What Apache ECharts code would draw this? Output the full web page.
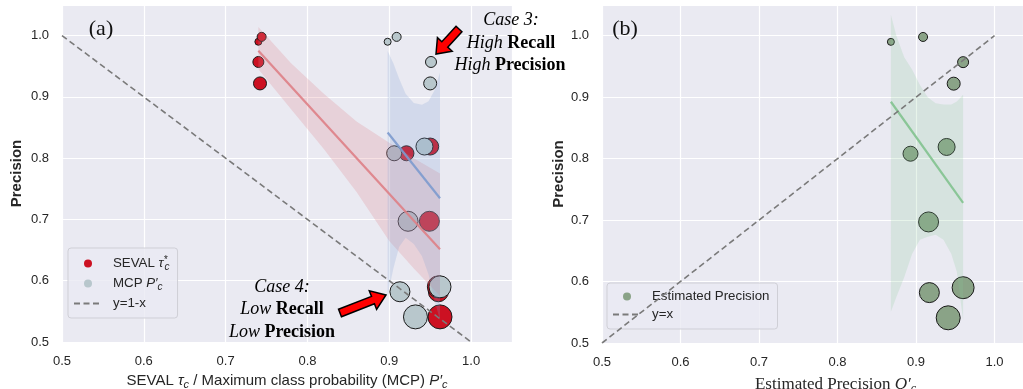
<!DOCTYPE html>
<html>
<head>
<meta charset="utf-8">
<script src="https://cdn.jsdelivr.net/npm/echarts@6/dist/echarts.min.js"></script>
<style>
  html, body { margin: 0; padding: 0; background: #fff; }
  #chart { width: 1023px; height: 389px; }
</style>
</head>
<body>
<div id="chart"></div>
<script>
// precision of each class (y of every point) and the three x-measures
const precision = [0.990, 0.998, 0.957, 0.922, 0.808, 0.819, 0.697, 0.582, 0.590, 0.541];
const sevalTau = [0.740, 0.744, 0.740, 0.742, 0.921, 0.950, 0.949, 0.960, 0.960, 0.962];
const mcpProb = [0.898, 0.909, 0.951, 0.950, 0.906, 0.943, 0.923, 0.913, 0.962, 0.932];
const estPrecision = [0.868, 0.909, 0.960, 0.948, 0.893, 0.939, 0.916, 0.917, 0.960, 0.941];
const classSize = [7, 9, 11, 13, 15, 17, 20, 20, 22, 24];

// confidence bands
const sevalBandX = [0.740, 0.780, 0.820, 0.860, 0.900, 0.930, 0.962];
const sevalBandHi = [1.014, 0.955, 0.905, 0.860, 0.825, 0.800, 0.775];
const sevalBandLo = [0.945, 0.880, 0.815, 0.745, 0.665, 0.620, 0.575];

const mcpBandX = [0.898, 0.905, 0.912, 0.920, 0.930, 0.940, 0.948, 0.955, 0.962];
const mcpBandHi = [0.975, 0.955, 0.930, 0.905, 0.890, 0.887, 0.893, 0.910, 0.940];
const mcpBandLo = [0.575, 0.620, 0.655, 0.670, 0.660, 0.640, 0.610, 0.570, 0.535];

const estBandX = [0.868, 0.875, 0.885, 0.895, 0.905, 0.915, 0.925, 0.935, 0.945, 0.952, 0.960];
const estBandHi = [1.034, 1.000, 0.965, 0.945, 0.920, 0.900, 0.890, 0.888, 0.888, 0.893, 0.904];
const estBandLo = [0.551, 0.575, 0.607, 0.645, 0.668, 0.673, 0.676, 0.668, 0.645, 0.616, 0.537];

// reference diagonals
const diagX = [0.5, 1.0];
const diagDown = [1.0, 0.5];
const diagUp = [0.5, 1.0];

const SANS = "'Liberation Sans', Arial, sans-serif";
const SERIF = "'Liberation Serif', 'Times New Roman', serif";
const TXT = '#262626';

function fitLine(xs, ys) {
  const n = xs.length;
  const mx = xs.reduce((a, b) => a + b, 0) / n;
  const my = ys.reduce((a, b) => a + b, 0) / n;
  let sxy = 0, sxx = 0;
  for (let i = 0; i < n; i++) {
    sxy += (xs[i] - mx) * (ys[i] - my);
    sxx += (xs[i] - mx) * (xs[i] - mx);
  }
  const b = sxy / sxx, a = my - b * mx;
  const x0 = Math.min(...xs), x1 = Math.max(...xs);
  return [[x0, a + b * x0], [x1, a + b * x1]];
}

function points(xs, ys) {
  return xs.map((x, i) => [x, ys[i], classSize[i]]);
}

function scatter(name, idx, xs, color) {
  return {
    name: name, type: 'scatter', xAxisIndex: idx, yAxisIndex: idx, z: 2,
    data: points(xs, precision),
    symbolSize: d => d[2],
    itemStyle: { color: color, borderColor: '#1a1a1a', borderWidth: 1, opacity: 1 }
  };
}

function band(idx, xs, hi, lo, fill) {
  return {
    type: 'custom', xAxisIndex: idx, yAxisIndex: idx, z: 3, silent: true,
    data: [[xs[0], hi[0]]],
    renderItem: function (params, api) {
      const top = xs.map((x, i) => api.coord([x, hi[i]]));
      const bottom = xs.map((x, i) => api.coord([x, lo[i]])).reverse();
      return { type: 'polygon', shape: { points: top.concat(bottom) }, style: { fill: fill } };
    }
  };
}

function regLine(idx, xs, color) {
  return {
    type: 'line', xAxisIndex: idx, yAxisIndex: idx, z: 4, silent: true,
    data: fitLine(xs, precision), symbol: 'none',
    lineStyle: { color: color, width: 2.2 }
  };
}

function diag(name, idx, ys) {
  return {
    name: name, type: 'line', xAxisIndex: idx, yAxisIndex: idx, z: 5, silent: true,
    data: diagX.map((x, i) => [x, ys[i]]), symbol: 'none',
    lineStyle: { color: '#7a7a7a', width: 1.6, type: [6, 3.5] }
  };
}

function arrowPoints(x1, y1, x2, y2, sw, hw, hl) {
  const dx = x2 - x1, dy = y2 - y1, L = Math.hypot(dx, dy);
  const ux = dx / L, uy = dy / L, nx = -uy, ny = ux;
  const bx = x2 - ux * hl, by = y2 - uy * hl;
  return [
    [x1 + nx * sw, y1 + ny * sw], [bx + nx * sw, by + ny * sw], [bx + nx * hw, by + ny * hw],
    [x2, y2],
    [bx - nx * hw, by - ny * hw], [bx - nx * sw, by - ny * sw], [x1 - nx * sw, y1 - ny * sw]
  ];
}

const legendRich = {
  n: { fontFamily: SANS, fontSize: 13.3, color: TXT, lineHeight: 17 },
  it: { fontFamily: SANS, fontSize: 13.3, color: TXT, fontStyle: 'italic', lineHeight: 17 },
  sup: { fontFamily: SANS, fontSize: 10, color: TXT, fontStyle: 'italic', lineHeight: 9, verticalAlign: 'top', width: 1 },
  sub: { fontFamily: SANS, fontSize: 10, color: TXT, fontStyle: 'italic', lineHeight: 9, verticalAlign: 'bottom' }
};
const legendNames = {
  seval: '{n|SEVAL }{it|τ}{sup|*}{sub|c}',
  mcp: '{n|MCP }{it|P′}{sub|c}',
  diag1: '{n|y=1-x}',
  est: '{n|Estimated Precision}',
  diag2: '{n|y=x}'
};
const legendBase = {
  orient: 'vertical', itemWidth: 28, itemHeight: 8, itemGap: 5,
  padding: [7, 8, 8, 5], backgroundColor: 'rgba(234,234,242,0.8)',
  borderColor: '#cfcfd6', borderWidth: 1, borderRadius: 3, selectedMode: false,
  textStyle: { rich: legendRich, padding: [0, 0, 0, 6] },
  formatter: name => legendNames[name]
};

function valueAxis(idx, max, extra) {
  return Object.assign({
    type: 'value', gridIndex: idx, min: 0.5, max: max, interval: 0.1,
    axisLine: { show: false }, axisTick: { show: false },
    splitLine: { lineStyle: { color: '#ffffff', width: 1.2 } },
    axisLabel: { color: TXT, fontFamily: SANS, fontSize: 13, margin: 13, showMaxLabel: false, formatter: v => v.toFixed(1) }
  }, extra);
}

const xLabel = { color: TXT, fontFamily: SANS, fontSize: 13, margin: 13, showMaxLabel: false, formatter: v => v.toFixed(1) };

const axNameRich = {
  n: { fontFamily: SANS, fontSize: 15, color: TXT, lineHeight: 20 },
  it: { fontFamily: SANS, fontSize: 15, color: TXT, fontStyle: 'italic', lineHeight: 20 },
  sub: { fontFamily: SANS, fontSize: 11, color: TXT, fontStyle: 'italic', lineHeight: 10, verticalAlign: 'bottom' },
  sn: { fontFamily: SERIF, fontSize: 17, color: TXT, lineHeight: 20 },
  sit: { fontFamily: SERIF, fontSize: 17, color: TXT, fontStyle: 'italic', lineHeight: 20 },
  ssub: { fontFamily: SERIF, fontSize: 12, color: TXT, fontStyle: 'italic', lineHeight: 11, verticalAlign: 'bottom' }
};

const caseRich = {
  i: { fontFamily: SERIF, fontSize: 18, fontStyle: 'italic', color: '#111' },
  b: { fontFamily: SERIF, fontSize: 18, fontWeight: 'bold', color: '#111' }
};
function caseText(text, x, y) {
  return { type: 'text', z: 100, style: { text: text, x: x, y: y, rich: caseRich, align: 'center', verticalAlign: 'middle' } };
}

const chart = echarts.init(document.getElementById('chart'));
chart.setOption({
  animation: false,
  backgroundColor: '#ffffff',
  grid: [
    { left: 62, top: 5, width: 450, height: 337, outerBoundsMode: 'none', show: true, backgroundColor: '#eaeaf2', borderWidth: 0 },
    { left: 602, top: 5, width: 421, height: 338, outerBoundsMode: 'none', show: true, backgroundColor: '#eaeaf2', borderWidth: 0 }
  ],
  xAxis: [
    valueAxis(0, 1.05, {
      axisLabel: xLabel,
      name: '{n|SEVAL }{it|τ}{sub|c}{n| / Maximum class probability (MCP) }{it|P′}{sub|c}',
      nameLocation: 'middle', nameGap: 28, nameTextStyle: { rich: axNameRich }
    }),
    valueAxis(1, 1.0363, {
      axisLabel: xLabel,
      name: '{sn|Estimated Precision }{sit|Q′}{ssub|c}',
      nameLocation: 'middle', nameGap: 32, nameTextStyle: { rich: axNameRich, padding: [0, 0, 0, 46] }
    })
  ],
  yAxis: [
    valueAxis(0, 1.05, {
      name: 'Precision', nameLocation: 'middle', nameGap: 38,
      nameTextStyle: { fontFamily: SANS, fontSize: 15, fontWeight: 'bold', color: TXT }
    }),
    valueAxis(1, 1.05, {
      name: 'Precision', nameLocation: 'middle', nameGap: 36,
      nameTextStyle: { fontFamily: SANS, fontSize: 15, fontWeight: 'bold', color: TXT }
    })
  ],
  legend: [
    Object.assign({}, legendBase, {
      left: 68, top: 248,
      data: [
        { name: 'seval', itemStyle: { borderWidth: 0 } },
        { name: 'mcp', itemStyle: { borderWidth: 0 } },
        { name: 'diag1', itemStyle: { opacity: 0 } }
      ]
    }),
    Object.assign({}, legendBase, {
      left: 607, top: 283,
      data: [
        { name: 'est', itemStyle: { borderWidth: 0 } },
        { name: 'diag2', itemStyle: { opacity: 0 } }
      ]
    })
  ],
  graphic: [
    { type: 'text', z: 100, style: { text: '(a)', x: 101, y: 29, font: '22px ' + SERIF, fill: '#111', align: 'center', verticalAlign: 'middle' } },
    { type: 'text', z: 100, style: { text: '(b)', x: 625, y: 29, font: '22px ' + SERIF, fill: '#111', align: 'center', verticalAlign: 'middle' } },
    caseText('{i|Case 3:}', 511, 20),
    caseText('{i|High }{b|Recall}', 511, 43),
    caseText('{i|High }{b|Precision}', 510, 65),
    caseText('{i|Case 4:}', 282, 287),
    caseText('{i|Low }{b|Recall}', 282, 309),
    caseText('{i|Low }{b|Precision}', 282, 332),
    { type: 'polygon', z: 100, shape: { points: arrowPoints(459, 29, 436, 54, 4, 10, 13) }, style: { fill: '#ff0000', stroke: '#000', lineWidth: 1.5 } },
    { type: 'polygon', z: 100, shape: { points: arrowPoints(340, 313, 386, 295, 4, 10, 14) }, style: { fill: '#ff0000', stroke: '#000', lineWidth: 1.5 } }
  ],
  series: [
    scatter('seval', 0, sevalTau, '#cc1122'),
    scatter('mcp', 0, mcpProb, '#b8c7cc'),
    band(0, sevalBandX, sevalBandHi, sevalBandLo, 'rgba(221,130,140,0.24)'),
    regLine(0, sevalTau, 'rgba(222,128,134,0.9)'),
    band(0, mcpBandX, mcpBandHi, mcpBandLo, 'rgba(127,159,208,0.22)'),
    regLine(0, mcpProb, 'rgba(124,154,206,0.9)'),
    diag('diag1', 0, diagDown),
    scatter('est', 1, estPrecision, '#8aa387'),
    band(1, estBandX, estBandHi, estBandLo, 'rgba(136,199,150,0.2)'),
    regLine(1, estPrecision, 'rgba(134,196,146,0.95)'),
    diag('diag2', 1, diagUp)
  ]
});
</script>
</body>
</html>
